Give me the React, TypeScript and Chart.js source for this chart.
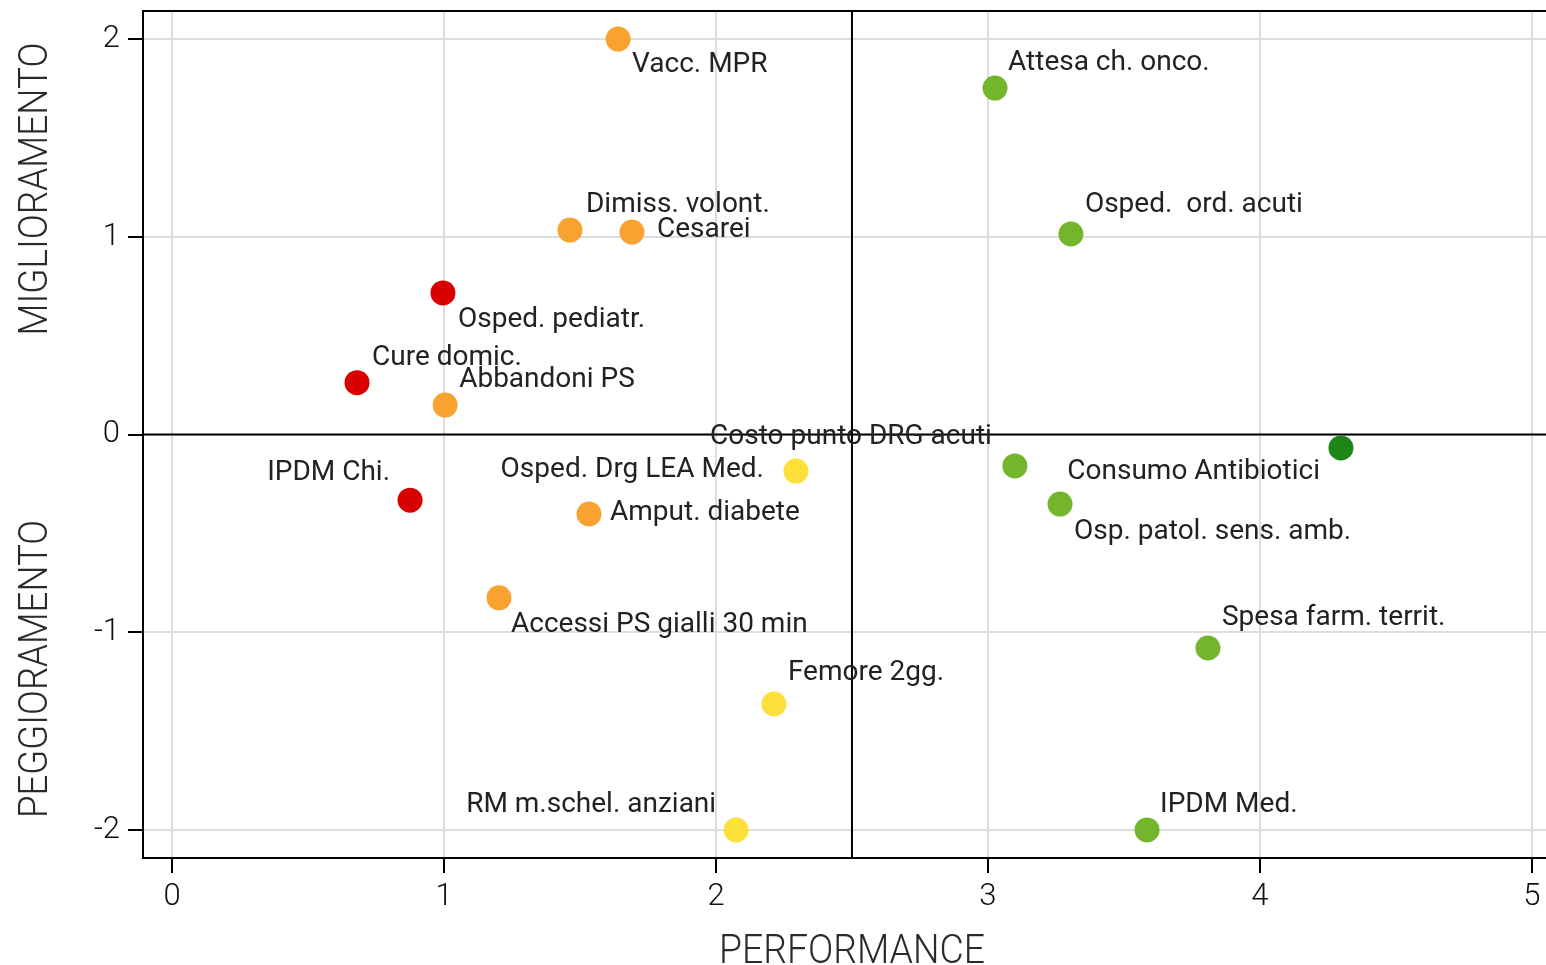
import React, { useEffect, useRef } from "react";
import { Chart, registerables } from "chart.js";

Chart.register(...registerables);

const labels: string[] = [
  "Vacc. MPR",
  "Attesa ch. onco.",
  "Dimiss. volont.",
  "Cesarei",
  "Osped.  ord. acuti",
  "Osped. pediatr.",
  "Cure domic.",
  "Abbandoni PS",
  "Costo punto DRG acuti",
  "Consumo Antibiotici",
  "Osp. patol. sens. amb.",
  "IPDM Chi.",
  "Osped. Drg LEA Med.",
  "Amput. diabete",
  "Accessi PS gialli 30 min",
  "Spesa farm. territ.",
  "Femore 2gg.",
  "RM m.schel. anziani",
  "IPDM Med.",
];

const performance: number[] = [
  1.64, 3.026, 1.463, 1.691, 3.305, 0.996, 0.68, 1.004, 3.099, 4.298, 3.265,
  0.875, 2.294, 1.533, 1.202, 3.809, 2.213, 2.074, 3.585,
];

const improvement: number[] = [
  2.0, 1.752, 1.034, 1.024, 1.014, 0.716, 0.262, 0.149, -0.159, -0.068,
  -0.352, -0.332, -0.185, -0.402, -0.826, -1.08, -1.363, -2.0, -2.0,
];

// colour class per point: 0 red, 1 orange, 2 yellow, 3 green, 4 dark green
const colorClass: number[] = [
  1, 3, 1, 1, 3, 0, 0, 1, 3, 4, 3, 0, 2, 1, 1, 3, 2, 2, 3,
];

const xTicks: number[] = [0, 1, 2, 3, 4, 5];
const yTicks: number[] = [-2, -1, 0, 1, 2];

const palette = ["#d90000", "#f8a230", "#fde13a", "#74b62b", "#1c8618"];

// label placement relative to each point: [dx, dy, align]
const labelPlacement: [number, number, CanvasTextAlign][] = [
  [14, 24, "left"],
  [13, -27, "left"],
  [16, -27, "left"],
  [25, -4, "left"],
  [14, -31, "left"],
  [15, 25, "left"],
  [15, -27, "left"],
  [14, -27, "left"],
  [-23, -31, "right"],
  [-21, 22, "right"],
  [14, 26, "left"],
  [-20, -29, "right"],
  [-32, -3, "right"],
  [21, -3, "left"],
  [12, 25, "left"],
  [14, -32, "left"],
  [14, -33, "left"],
  [-20, -27, "right"],
  [13, -27, "left"],
];

const FONT = "Roboto, 'DejaVu Sans', sans-serif";

const quadrantPlugin = {
  id: "quadrants",
  beforeDatasetsDraw(chart: any) {
    const { ctx, chartArea, scales } = chart;
    const x = scales.x.getPixelForValue(2.5);
    const y = scales.y.getPixelForValue(0);
    ctx.save();
    ctx.strokeStyle = "#000";
    ctx.lineWidth = 2;
    ctx.beginPath();
    ctx.moveTo(x, chartArea.top);
    ctx.lineTo(x, chartArea.bottom);
    ctx.moveTo(chartArea.left, y);
    ctx.lineTo(chartArea.right, y);
    ctx.moveTo(chartArea.left, chartArea.top);
    ctx.lineTo(chartArea.right, chartArea.top);
    ctx.stroke();
    ctx.restore();
  },
};

const labelPlugin = {
  id: "pointLabels",
  afterDatasetsDraw(chart: any) {
    const { ctx } = chart;
    const meta = chart.getDatasetMeta(0);
    ctx.save();
    ctx.font = `28px ${FONT}`;
    ctx.fillStyle = "#222222";
    ctx.textBaseline = "middle";
    meta.data.forEach((el: any, i: number) => {
      const [dx, dy, align] = labelPlacement[i];
      ctx.textAlign = align;
      ctx.fillText(labels[i], el.x + dx, el.y + dy + 2);
    });
    ctx.restore();
  },
};

const titlePlugin = {
  id: "axisTitles",
  afterDraw(chart: any) {
    const { ctx, scales } = chart;
    const titleFont = `300 40px ${FONT}`;
    const cx = scales.x.getPixelForValue(2.5);
    ctx.save();
    ctx.fillStyle = "#2a2a2a";
    ctx.font = titleFont;
    ctx.textAlign = "center";
    ctx.textBaseline = "alphabetic";
    ctx.fillText("PERFORMANCE", cx, 963, 266);
    ctx.translate(47, 189);
    ctx.rotate(-Math.PI / 2);
    ctx.fillText("MIGLIORAMENTO", 0, 0, 293);
    ctx.restore();
    ctx.save();
    ctx.fillStyle = "#2a2a2a";
    ctx.font = titleFont;
    ctx.textAlign = "center";
    ctx.translate(47, 669);
    ctx.rotate(-Math.PI / 2);
    ctx.fillText("PEGGIORAMENTO", 0, 0, 298);
    ctx.restore();
  },
};

export default function App() {
  const ref = useRef<HTMLCanvasElement | null>(null);

  useEffect(() => {
    document.body.style.margin = "0";
    if (!ref.current) return;
    const chart = new Chart(ref.current, {
      type: "scatter",
      data: {
        datasets: [
          {
            data: performance.map((x, i) => ({ x, y: improvement[i] })),
            pointBackgroundColor: colorClass.map((c) => palette[c]),
            pointBorderWidth: 0,
            pointRadius: 12.5,
            pointHoverRadius: 12.5,
            clip: false,
          },
        ],
      },
      plugins: [quadrantPlugin, labelPlugin, titlePlugin],
      options: {
        animation: false,
        responsive: false,
        layout: { autoPadding: false, padding: { top: 11, right: 0, left: 0, bottom: 0 } },
        plugins: { legend: { display: false }, tooltip: { enabled: false } },
        scales: {
          x: {
            type: "linear",
            min: -0.107,
            max: 5.052,
            afterBuildTicks: (s: any) => {
              s.ticks = xTicks.map((v) => ({ value: v }));
            },
            afterFit: (s: any) => {
              s.height = 107;
              s.paddingLeft = 0;
              s.paddingRight = 0;
            },
            grid: {
              color: "#dddddd",
              lineWidth: 2,
              tickColor: "#000",
              tickLength: 15,
              tickWidth: 2,
            },
            border: { color: "#000", width: 2 },
            ticks: {
              color: "#111",
              font: { family: FONT, size: 31, weight: "300" },
              padding: 6,
              maxRotation: 0,
            },
          },
          y: {
            type: "linear",
            min: -2.142,
            max: 2.142,
            afterBuildTicks: (s: any) => {
              s.ticks = yTicks.map((v) => ({ value: v }));
            },
            afterFit: (s: any) => {
              s.width = 143;
              s.paddingTop = 0;
              s.paddingBottom = 0;
            },
            grid: {
              color: "#dddddd",
              lineWidth: 2,
              tickColor: "#000",
              tickLength: 15,
              tickWidth: 2,
            },
            border: { color: "#000", width: 2 },
            ticks: {
              color: "#111",
              font: { family: FONT, size: 31, weight: "300" },
              padding: 8,
            },
          },
        },
      },
    });
    return () => chart.destroy();
  }, []);

  return (
    <div style={{ width: 1546, height: 965 }}>
      <canvas ref={ref} width={1546} height={965} style={{ display: "block" }} />
    </div>
  );
}
